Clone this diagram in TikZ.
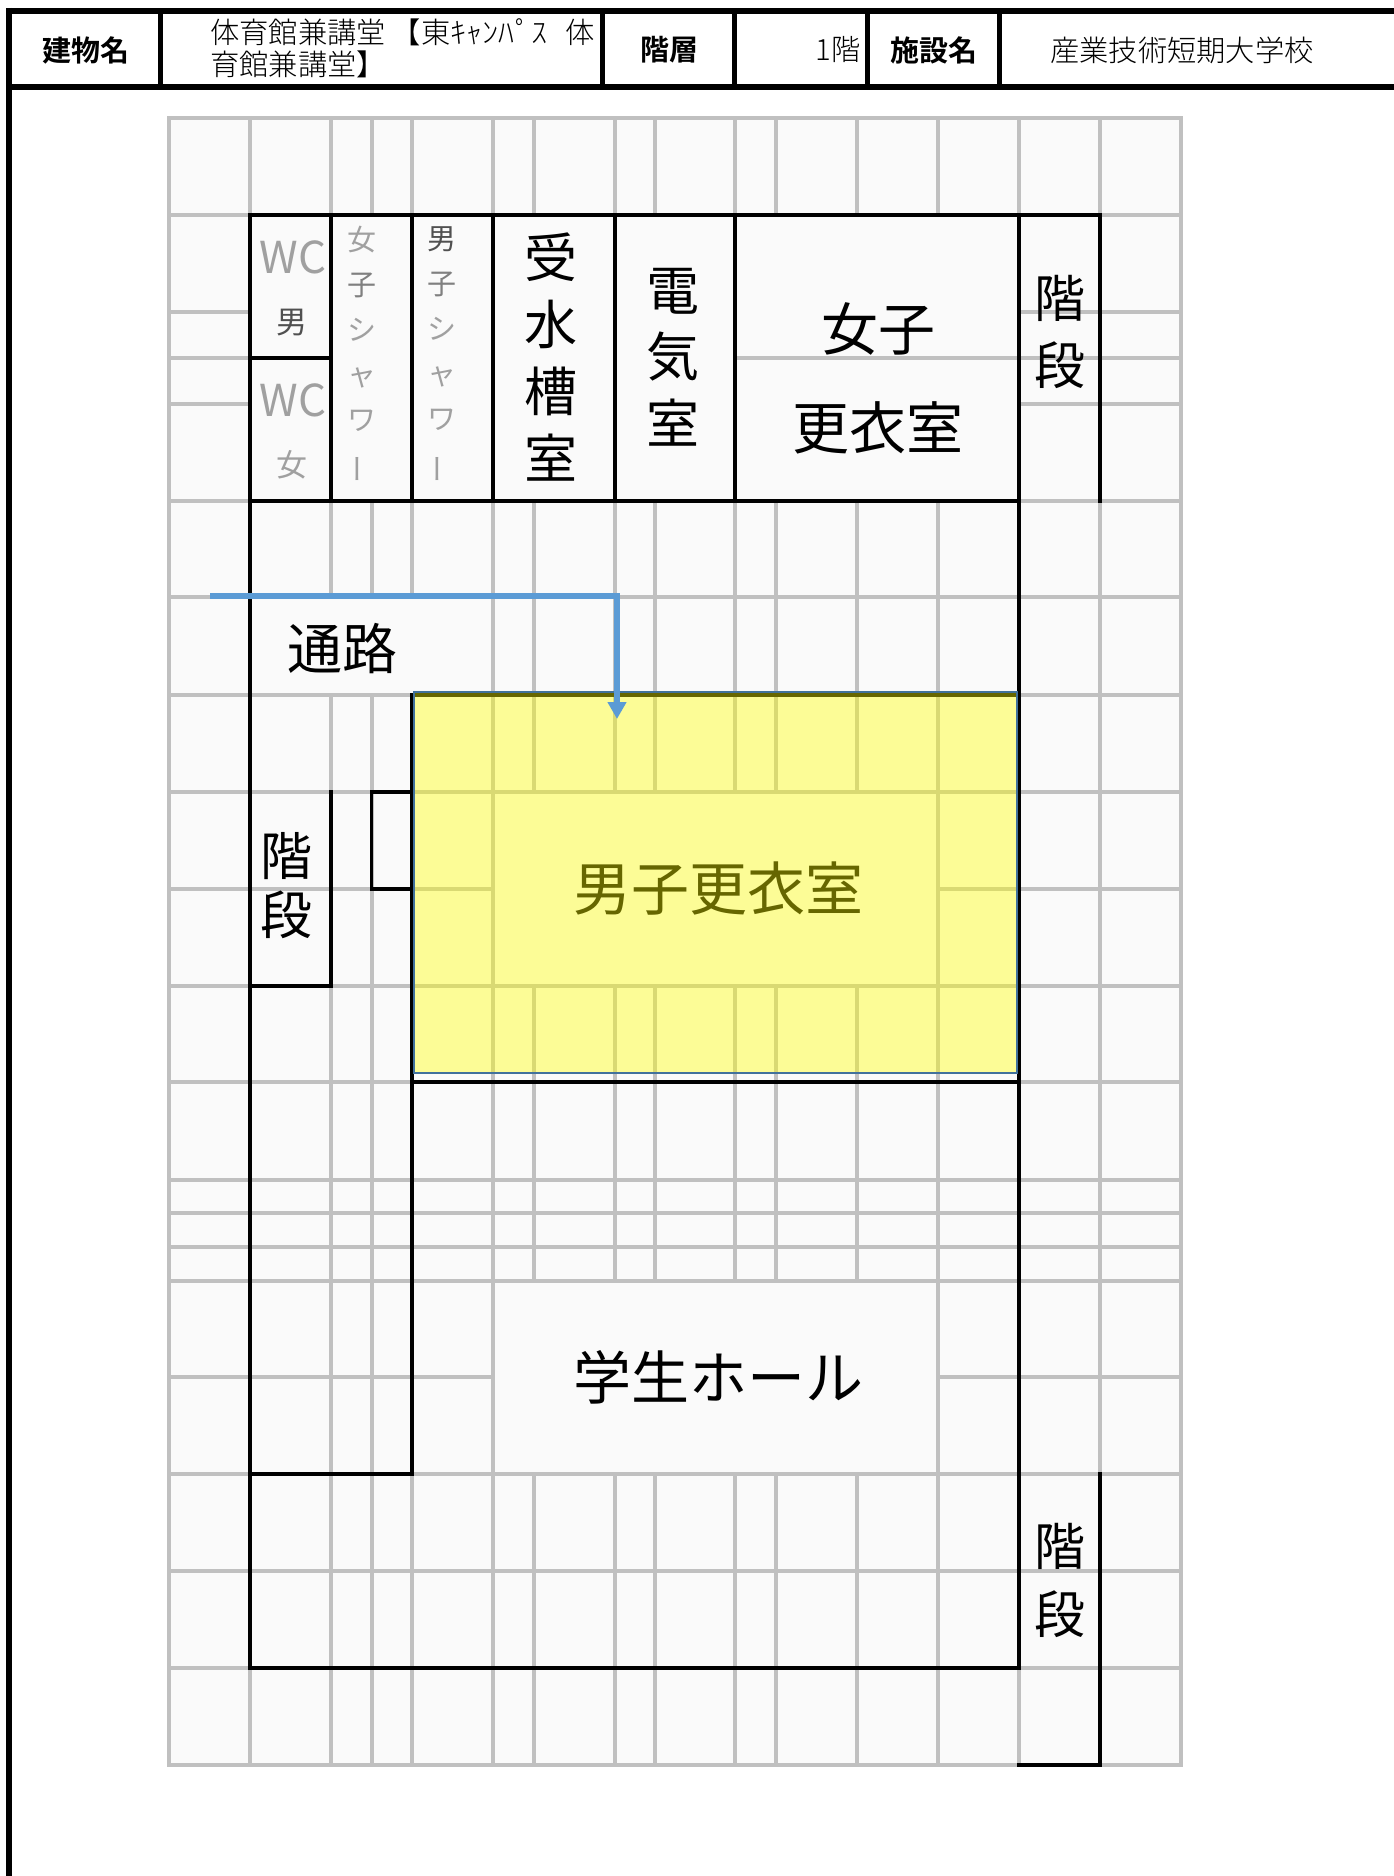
\documentclass[tikz,border=0pt]{standalone}
\usepackage{graphicx}
\usepackage{fontspec}
\usetikzlibrary{arrows.meta}
\newfontfamily\jpfont{Noto Sans CJK JP}
\newfontfamily\jpbold{Noto Sans CJK JP Bold}
\newfontfamily\jplight{Noto Sans CJK JP Light}
\definecolor{gridgray}{HTML}{C0C0C0}
\definecolor{cellbg}{HTML}{FAFAFA}
\definecolor{routeblue}{HTML}{5B9BD5}
\definecolor{edgeblue}{HTML}{41719C}
\definecolor{wcgray}{HTML}{A0A0A0}
\definecolor{mgray}{HTML}{505050}
\definecolor{kgray}{HTML}{808080}
\definecolor{hlyellow}{RGB}{255,255,0}
\tikzset{
  gridline/.style={draw=gridgray,line width=4pt},
  wall/.style={draw=black,line width=3.8pt,line cap=rect},
  frameline/.style={draw=black,line width=5.8pt},
  lab/.style 2 args={inner sep=0pt,outer sep=0pt,align=center,font=\jpfont\fontsize{#1}{#2}\selectfont},
  headlab/.style={inner sep=0pt,font=\jpbold\fontsize{29}{30}\selectfont},
  headval/.style={inner sep=0pt,font=\jplight\fontsize{29.3}{32}\selectfont},
}
\begin{document}
\begin{tikzpicture}[x=1pt,y=-1pt]
\useasboundingbox (0,0) rectangle (1394,1876);
\fill[white] (0,0) rectangle (1394,1876);
% grid background
\fill[cellbg] (169,118) rectangle (1181,1765);
% horizontal grid lines, full width
\foreach \y in {118,215,501,597,695,792,986,1082,1180,1213,1247,1281,1474,1571,1668,1765}
  \draw[gridline] (167,\y) -- (1183,\y);
% horizontal grid lines, partial
\foreach \y in {312,404} {
  \draw[gridline] (169,\y) -- (250,\y);
  \draw[gridline] (1019,\y) -- (1181,\y);
}
\draw[gridline] (169,358) -- (250,358);
\draw[gridline] (735,358) -- (1181,358);
\foreach \y in {889,1377} {
  \draw[gridline] (169,\y) -- (493,\y);
  \draw[gridline] (938,\y) -- (1181,\y);
}
% vertical grid lines
\foreach \x in {169,250,493,1019,1100,1181}
  \draw[gridline] (\x,118) -- (\x,1765);
\foreach \x in {331,371.5,412} {
  \draw[gridline] (\x,118) -- (\x,215);
  \draw[gridline] (\x,501) -- (\x,597);
  \draw[gridline] (\x,695) -- (\x,1765);
}
\foreach \x in {533.5,615,655,735,776,857} {
  \draw[gridline] (\x,118) -- (\x,215);
  \draw[gridline] (\x,501) -- (\x,792);
  \draw[gridline] (\x,986) -- (\x,1281);
  \draw[gridline] (\x,1474) -- (\x,1765);
}
\draw[gridline] (938,118) -- (938,215);
\draw[gridline] (938,501) -- (938,1765);
% walls
\draw[wall] (250,215) -- (1100,215) -- (1100,501);
\draw[wall] (250,215) -- (250,1668) -- (1019,1668) -- (1019,215);
\draw[wall] (250,501) -- (1019,501);
\draw[wall] (250,358) -- (331,358);
\foreach \x in {331,412,493}
  \draw[wall] (\x,215) -- (\x,501);
\draw[wall,line width=4.6pt] (615,215) -- (615,501);
\draw[wall,line width=4.6pt] (735,215) -- (735,501);
\draw[wall] (412,695) -- (1019,695);
\draw[wall] (412,695) -- (412,1474) -- (250,1474);
\draw[wall] (412,1082) -- (1019,1082);
\draw[wall] (250,986) -- (331,986) -- (331,792);
\draw[wall] (412,792) -- (371.5,792) -- (371.5,889) -- (412,889);
\draw[wall] (1100,1474) -- (1100,1765) -- (1019,1765);
% header
\draw[frameline] (6,11) -- (1394,11);
\draw[frameline] (6,87) -- (1394,87);
\draw[frameline] (9,8) -- (9,1876);
\foreach \x in {160,602,734,867,999}
  \draw[frameline,line width=5pt] (\x,11) -- (\x,87);
\node[headlab] (hBuilding) at (86,50) {建物名};
\node[headval,anchor=north west,align=left] (hBuildingVal) at (210,18.5) {体育館兼講堂\hspace{6pt}【東\scalebox{1.1}[1]{ｷｬﾝﾊﾟｽ}\hspace{18pt}体\\育館兼講堂】};
\node[headlab] (hFloor) at (669,50) {階層};
\node[headval,anchor=east] (hFloorVal) at (861,50) {1階};
\node[headlab] (hFacility) at (934,50) {施設名};
\node[headval] (hFacilityVal) at (1182,50) {産業技術短期大学校};
% room labels
\node[lab={44}{44},text=wcgray] (wcMa) at (293,257) {WC};
\node[lab={31}{40},text=mgray] (wcMb) at (292,323) {男};
\node[lab={44}{44},text=wcgray] (wcFa) at (293,400) {WC};
\node[lab={31}{40},text=wcgray] (wcFb) at (292,465) {女};
\node[lab={29}{45},text=wcgray] (showerF) at (362,355) {女\\\textcolor{kgray}{子}\\シ\\ャ\\ワ\\\rotatebox[origin=c]{90}{ー}};
\node[lab={29}{45},text=wcgray] (showerM) at (442,355) {\textcolor{mgray}{男}\\\textcolor{kgray}{子}\\シ\\ャ\\ワ\\\rotatebox[origin=c]{90}{ー}};
\node[lab={53}{66.7}] (tank) at (551,357) {受\\水\\槽\\室};
\node[lab={53}{66.7}] (elec) at (673,357) {電\\気\\室};
\node[lab={57}{99}] (womenRoom) at (878,378) {女子\\更衣室};
\node[lab={51}{67}] (stairsA) at (1059.5,332) {階\\段};
\node[lab={55}{60}] (passage) at (342,649) {通路};
\node[lab={52}{59}] (stairsB) at (286,886) {階\\段};
\node[lab={58}{60}] (menRoom) at (718,889) {男子更衣室};
\node[lab={58}{60}] (hall) at (718,1377) {学生ホール};
\node[lab={51}{68}] (stairsC) at (1059.5,1580) {階\\段};
% highlighted room
\node[draw=edgeblue,line width=1.8pt,fill=hlyellow,fill opacity=0.4,draw opacity=1,minimum width=603pt,minimum height=381pt,inner sep=0pt,outer sep=0pt] (highlight) at (715.5,882.5) {};
% route
\coordinate (routeStart) at (210,596);
\coordinate (routeTurn) at (617,596);
\draw[routeblue,line width=5.5pt,-{Triangle[length=17pt,width=18pt]}] (routeStart) -- (routeTurn) -- (routeTurn |- highlight.north) -- ++(0,27);
\end{tikzpicture}
\end{document}
